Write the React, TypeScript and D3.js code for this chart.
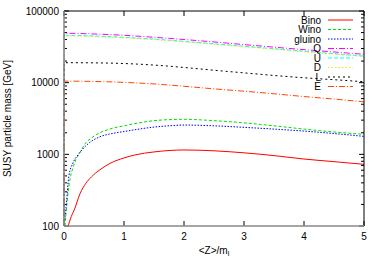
import React, { useEffect, useRef } from "react";
import * as d3 from "d3";

// values: [<Z>/m_l, mass in GeV]
const bino = [[0.07, 100], [0.12, 135], [0.17, 167], [0.27, 286], [0.36, 390], [0.46, 487], [0.6, 610], [0.77, 750], [1.0, 890], [1.18, 980], [1.5, 1080], [1.75, 1130], [2.0, 1150], [2.5, 1120], [3.0, 1050], [3.5, 960], [4.0, 860], [4.5, 790], [5.0, 725]];
const wino = [[0.017, 100], [0.04, 170], [0.07, 300], [0.1, 450], [0.15, 650], [0.2, 850], [0.25, 1000], [0.35, 1400], [0.46, 1700], [0.6, 2000], [0.8, 2300], [1.0, 2500], [1.25, 2750], [1.5, 2950], [1.75, 3050], [2.0, 3080], [2.5, 2950], [3.0, 2750], [3.5, 2500], [4.0, 2250], [4.5, 2050], [5.0, 1900]];
const gluino = [[0.0, 100], [0.03, 167], [0.08, 490], [0.15, 760], [0.24, 1000], [0.4, 1400], [0.6, 1760], [0.8, 1950], [1.0, 2080], [1.25, 2250], [1.5, 2400], [1.75, 2500], [2.0, 2560], [2.5, 2500], [3.0, 2380], [3.5, 2250], [4.0, 2110], [4.5, 1950], [5.0, 1780]];
const sQ = [[0, 100], [0.004, 48900], [0.5, 47800], [1, 45800], [1.5, 43000], [2, 40000], [2.5, 37000], [3, 34000], [3.5, 31300], [4, 28900], [4.5, 26800], [5, 24900]];
const sU = [[0, 100], [0.004, 45800], [0.5, 44800], [1, 42900], [1.5, 40600], [2, 37700], [2.5, 34900], [3, 32200], [3.5, 29800], [4, 27500], [4.5, 25400], [5, 23500]];
const sD = [[0, 100], [0.004, 45000], [0.5, 44000], [1, 42200], [1.5, 39900], [2, 37100], [2.5, 34300], [3, 31700], [3.5, 29300], [4, 27000], [4.5, 25000], [5, 23100]];
const sL = [[0, 100], [0.004, 19000], [0.5, 18900], [1, 18500], [1.5, 17600], [2, 16300], [2.5, 14900], [3, 13700], [3.5, 12600], [4, 11700], [4.5, 11000], [5, 10300]];
const sE = [[0, 100], [0.004, 10500], [0.5, 10400], [1, 10100], [1.5, 9600], [2, 8900], [2.5, 8200], [3, 7600], [3.5, 7000], [4, 6400], [4.5, 5900], [5, 5400]];

const names = ["Bino", "Wino", "gluino", "Q", "U", "D", "L", "E"];
const seriesData = [bino, wino, gluino, sQ, sU, sD, sL, sE];
const colors = ["#ff0000", "#00e000", "#0000ff", "#ff00ff", "#00ffff", "#e8e800", "#000000", "#ff4500"];
const dashes = ["", "3,2", "1.5,1.5", "6,2,1,2", "4,2", "1.5,2", "2,3", "6,2,1,2"];

const xTicks = [0, 1, 2, 3, 4, 5];
const yTicks = [100, 1000, 10000, 100000];

const App = () => {
  const ref = useRef<SVGSVGElement>(null);

  useEffect(() => {
    const width = 382, height = 267;
    const m = { left: 64, right: 18, top: 11, bottom: 41 };
    const svg = d3.select(ref.current);
    svg.selectAll("*").remove();
    const font = "'Liberation Sans', Arial, sans-serif";

    const x = d3.scaleLinear().domain([0, 5]).range([m.left, width - m.right]);
    const y = d3.scaleLog().domain([100, 100000]).range([height - m.bottom, m.top]);
    const [x0, x1] = x.range();
    const [y0, y1] = y.range();

    // minor ticks on the log axis
    const minor: number[] = [];
    [100, 1000, 10000].forEach(d => { for (let k = 2; k <= 9; k++) minor.push(d * k); });

    const g = svg.append("g");
    minor.forEach(v => {
      g.append("line").attr("x1", x0).attr("x2", x0 + 3).attr("y1", y(v)).attr("y2", y(v)).attr("stroke", "#000");
      g.append("line").attr("x1", x1).attr("x2", x1 - 3).attr("y1", y(v)).attr("y2", y(v)).attr("stroke", "#000");
    });
    yTicks.forEach(v => {
      g.append("line").attr("x1", x0).attr("x2", x0 + 5).attr("y1", y(v)).attr("y2", y(v)).attr("stroke", "#000");
      g.append("line").attr("x1", x1).attr("x2", x1 - 5).attr("y1", y(v)).attr("y2", y(v)).attr("stroke", "#000");
      g.append("text").attr("x", x0 - 5).attr("y", y(v)).attr("dy", "0.35em").attr("text-anchor", "end")
        .attr("font-family", font).attr("font-size", 10).text(v);
    });
    xTicks.forEach(v => {
      g.append("line").attr("x1", x(v)).attr("x2", x(v)).attr("y1", y0).attr("y2", y0 - 5).attr("stroke", "#000");
      g.append("line").attr("x1", x(v)).attr("x2", x(v)).attr("y1", y1).attr("y2", y1 + 5).attr("stroke", "#000");
      g.append("text").attr("x", x(v)).attr("y", y0 + 14).attr("text-anchor", "middle")
        .attr("font-family", font).attr("font-size", 10).text(v);
    });

    const line = d3.line<number[]>().x(d => x(d[0])).y(d => y(d[1])).curve(d3.curveMonotoneX);
    seriesData.forEach((s, i) => {
      svg.append("path").attr("d", line(s)).attr("fill", "none").attr("stroke", colors[i])
        .attr("stroke-width", 1).attr("stroke-dasharray", dashes[i] || null);
    });

    // frame
    svg.append("line").attr("x1", x0).attr("x2", x1).attr("y1", y1).attr("y2", y1).attr("stroke", "#000");
    svg.append("line").attr("x1", x1).attr("x2", x1).attr("y1", y1).attr("y2", y0).attr("stroke", "#000");
    svg.append("line").attr("x1", x0).attr("x2", x0).attr("y1", y1).attr("y2", y0).attr("stroke", "#888").attr("stroke-width", 1.5);
    svg.append("line").attr("x1", x0).attr("x2", x1).attr("y1", y0).attr("y2", y0).attr("stroke", "#888").attr("stroke-width", 1.5);

    // legend
    const lg = svg.append("g");
    names.forEach((n, i) => {
      const ly = 20 + i * 9.5;
      lg.append("text").attr("x", 321).attr("y", ly).attr("dy", "0.35em").attr("text-anchor", "end")
        .attr("font-family", font).attr("font-size", 10).text(n);
      lg.append("line").attr("x1", 328).attr("x2", 353).attr("y1", ly).attr("y2", ly)
        .attr("stroke", colors[i]).attr("stroke-dasharray", dashes[i] || null);
    });

    // axis labels
    svg.append("text").attr("transform", `translate(11,${(y0 + y1) / 2}) rotate(-90)`).attr("text-anchor", "middle")
      .attr("font-family", font).attr("font-size", 10).text("SUSY particle mass [GeV]");
    const xl = svg.append("text").attr("x", (x0 + x1) / 2).attr("y", 254).attr("text-anchor", "middle")
      .attr("font-family", font).attr("font-size", 10);
    xl.append("tspan").text("<Z>/m");
    xl.append("tspan").attr("dy", 2).attr("font-size", 7).text("l");
  }, []);

  return (
    <svg ref={ref} width={382} height={267} style={{ position: "absolute", left: 0, top: 0, background: "#fff" }} />
  );
};

export default App;
